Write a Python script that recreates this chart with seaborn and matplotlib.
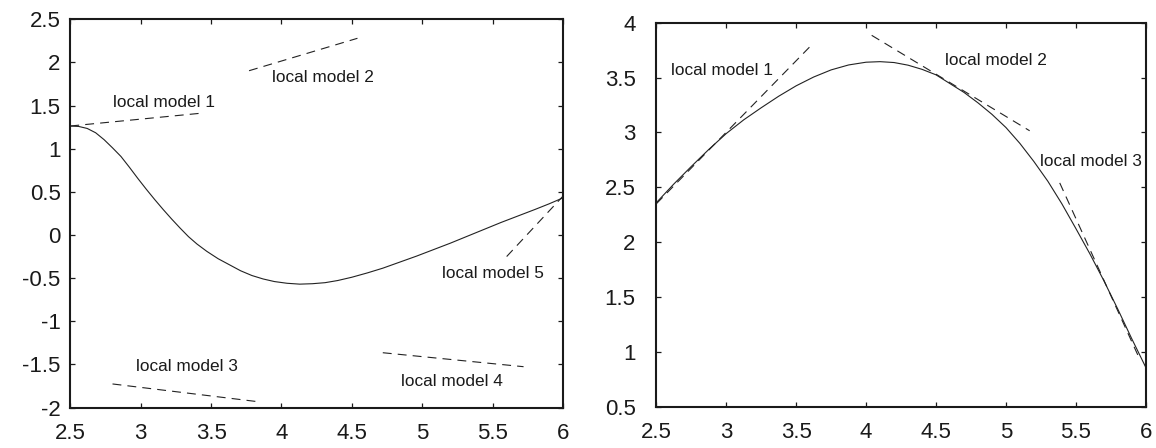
import matplotlib
matplotlib.use("Agg")
import matplotlib.pyplot as plt
import numpy as np
import pandas as pd
import seaborn as sns

# ---------------- data ----------------
# left panel: process curve
left_x = [2.50, 2.56, 2.62, 2.68, 2.74, 2.80, 2.86, 2.92, 2.98, 3.04, 3.10, 3.16,
          3.22, 3.28, 3.34, 3.40, 3.47, 3.55, 3.63, 3.71, 3.79, 3.87, 3.95, 4.04,
          4.13, 4.22, 4.31, 4.40, 4.50, 4.61, 4.72, 4.84, 4.96, 5.08, 5.20, 5.32,
          5.44, 5.56, 5.68, 5.80, 5.90, 6.00]
left_y = [1.263, 1.258, 1.235, 1.185, 1.105, 1.01, 0.91, 0.785, 0.655, 0.53, 0.41, 0.295,
          0.185, 0.08, -0.02, -0.105, -0.19, -0.275, -0.345, -0.415, -0.47, -0.51, -0.54, -0.56,
          -0.57, -0.565, -0.553, -0.528, -0.49, -0.44, -0.385, -0.315, -0.245, -0.17, -0.095, -0.015,
          0.065, 0.145, 0.22, 0.295, 0.36, 0.43]

# left panel: local models (dashed segments, start/end)
left_lm_x = [[2.50, 3.42], [3.77, 4.54], [2.80, 3.83], [4.72, 5.72], [5.60, 6.00]]
left_lm_y = [[1.263, 1.41], [1.904, 2.28], [-1.727, -1.932], [-1.365, -1.527], [-0.25, 0.45]]
left_labels = ["local model 1", "local model 2", "local model 3", "local model 4", "local model 5"]
left_label_x = [2.80, 3.93, 2.97, 4.85, 5.14]
left_label_y = [1.54, 1.83, -1.53, -1.70, -0.445]

# right panel: process curve
right_x = [2.50, 2.625, 2.75, 2.875, 3.00, 3.125, 3.25, 3.375, 3.50, 3.625, 3.75, 3.875,
           4.00, 4.10, 4.20, 4.30, 4.40, 4.50, 4.60, 4.70, 4.80, 4.90, 5.00, 5.10,
           5.20, 5.30, 5.40, 5.50, 5.60, 5.70, 5.80, 5.90, 6.00]
right_y = [2.36, 2.53, 2.69, 2.845, 2.99, 3.115, 3.225, 3.33, 3.425, 3.505, 3.57, 3.615,
           3.64, 3.645, 3.637, 3.613, 3.575, 3.525, 3.445, 3.365, 3.27, 3.165, 3.045, 2.90,
           2.735, 2.555, 2.35, 2.125, 1.895, 1.65, 1.39, 1.12, 0.86]

# right panel: local models
right_lm_x = [[2.50, 3.62], [4.04, 5.17], [5.385, 5.96]]
right_lm_y = [[2.35, 3.81], [3.885, 3.015], [2.54, 0.925]]
right_labels = ["local model 1", "local model 2", "local model 3"]
right_label_x = [2.605, 4.563, 5.246]
right_label_y = [3.56, 3.66, 2.733]

xticks = [2.5, 3, 3.5, 4, 4.5, 5, 5.5, 6]
xtick_labels = ["2.5", "3", "3.5", "4", "4.5", "5", "5.5", "6"]
left_yticks = [-2, -1.5, -1, -0.5, 0, 0.5, 1, 1.5, 2, 2.5]
left_ytick_labels = ["-2", "-1.5", "-1", "-0.5", "0", "0.5", "1", "1.5", "2", "2.5"]
right_yticks = [0.5, 1, 1.5, 2, 2.5, 3, 3.5, 4]
right_ytick_labels = ["0.5", "1", "1.5", "2", "2.5", "3", "3.5", "4"]

# ---------------- style ----------------
sns.set_theme(style="ticks")
plt.rcParams['font.family'] = ['Liberation Sans', 'DejaVu Sans']
INK = "#1a1a1a"
LINE = "#222222"

fig = plt.figure(figsize=(11.56, 4.48), dpi=100)
fig.patch.set_facecolor("white")
ax1 = fig.add_axes([0.0608, 0.0904, 0.4262, 0.8665])
ax2 = fig.add_axes([0.5678, 0.0922, 0.4233, 0.8571])


def draw(ax, cx, cy, lmx, lmy, labels, lx, ly, ylim, yticks, yticklabels, ypad):
    df = pd.DataFrame({"x": cx, "y": cy})
    sns.lineplot(data=df, x="x", y="y", ax=ax, color=LINE, linewidth=0.8,
                 sort=False, estimator=None)
    for xs, ys in zip(lmx, lmy):
        d = pd.DataFrame({"x": xs, "y": ys})
        sns.lineplot(data=d, x="x", y="y", ax=ax, color=LINE, linewidth=0.8,
                     linestyle=(0, (8, 5.5)), sort=False, estimator=None)
    for t, x, y in zip(labels, lx, ly):
        ax.text(x, y, t, fontsize=12.4, color=INK, ha="left", va="center")
    ax.set_xlim(2.5, 6)
    ax.set_ylim(*ylim)
    ax.set_xticks(xticks)
    ax.set_xticklabels(xtick_labels)
    ax.set_yticks(yticks)
    ax.set_yticklabels(yticklabels)
    ax.set_xlabel("")
    ax.set_ylabel("")
    ax.tick_params(axis="both", direction="in", length=3.6, width=0.9,
                   top=True, right=True, labelsize=16, colors=INK)
    ax.tick_params(axis="x", pad=11)
    ax.tick_params(axis="y", pad=ypad)
    for s in ax.spines.values():
        s.set_visible(True)
        s.set_linewidth(1.5)
        s.set_color(INK)
    ax.set_facecolor("white")
    ax.grid(False)


draw(ax1, left_x, left_y, left_lm_x, left_lm_y, left_labels, left_label_x, left_label_y,
     (-2, 2.5), left_yticks, left_ytick_labels, 7)
draw(ax2, right_x, right_y, right_lm_x, right_lm_y, right_labels, right_label_x, right_label_y,
     (0.5, 4), right_yticks, right_ytick_labels, 15)

fig.savefig("out.png", dpi=100, facecolor="white")
